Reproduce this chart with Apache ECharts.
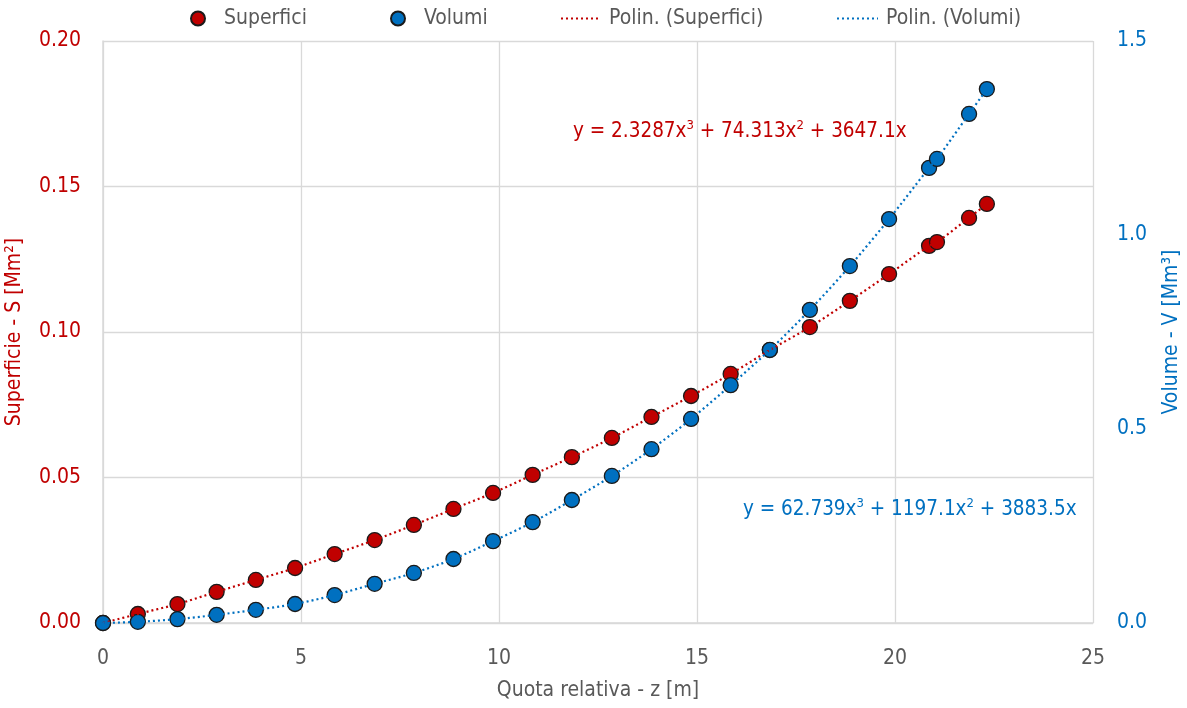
<!DOCTYPE html>
<html><head><meta charset="utf-8">
<script src="https://cdn.jsdelivr.net/npm/echarts@6/dist/echarts.min.js"></script>
<style>html,body{margin:0;padding:0;background:#fff}#c{width:1187px;height:708px}</style>
</head><body><div id="c"></div>
<script>
var quota = [0, 0.88, 1.88, 2.87, 3.86, 4.85, 5.85, 6.86, 7.85, 8.85, 9.85, 10.85, 11.84, 12.85, 13.85, 14.85, 15.85, 16.84, 17.85, 18.86, 19.85, 20.86, 21.06, 21.87, 22.32];
var superfici = [0, 0.0031, 0.0065, 0.0107, 0.0148, 0.0189, 0.0237, 0.0285, 0.0337, 0.0392, 0.0447, 0.0509, 0.0570, 0.0636, 0.0708, 0.0780, 0.0856, 0.0938, 0.1017, 0.1107, 0.1199, 0.1296, 0.1309, 0.1392, 0.1440];
var volumi = [0, 0.003, 0.010, 0.021, 0.034, 0.049, 0.072, 0.101, 0.129, 0.165, 0.211, 0.260, 0.317, 0.379, 0.448, 0.526, 0.613, 0.704, 0.807, 0.920, 1.041, 1.173, 1.196, 1.312, 1.376];
var eqSup = ['y = 2.3287x', '3', ' + 74.313x', '2', ' + 3647.1x'];
var eqVol = ['y = 62.739x', '3', ' + 1197.1x', '2', ' + 3883.5x'];

var RED = '#c00000', BLUE = '#0070c0', GREY = '#595959', GRID = '#d9d9d9';
var FONT = "'Liberation Sans Narrow', 'DejaVu Sans Condensed', 'Roboto', sans-serif";
function pairs(xs, ys){ return xs.map(function(x,i){ return [x, ys[i]]; }); }
function eqText(parts){ return '{n|' + parts[0] + '}{s|' + parts[1] + '}{n|' + parts[2] + '}{s|' + parts[3] + '}{n|' + parts[4] + '}'; }

var chart = echarts.init(document.getElementById('c'), null, {renderer: 'canvas'});
function legendAt(left, name, isLine, width, pad){
  var item = isLine ? {name: name, itemStyle: {opacity: 0}} : {name: name, icon: 'circle'};
  return {
    left: left, top: 3, itemGap: 0,
    itemWidth: isLine ? width : 14, itemHeight: 14,
    data: [item],
    textStyle: {color: GREY, fontSize: 21, fontFamily: FONT, padding: [0, 0, 0, pad]}
  };
}
chart.setOption({
  animation: false,
  textStyle: {fontFamily: FONT},
  grid: {left: 103, right: 94, top: 41, bottom: 85, outerBoundsMode: 'none', containLabel: false},
  legend: [
    legendAt(185, 'Superfici', false, 14, 14),
    legendAt(385, 'Volumi', false, 14, 14),
    legendAt(555, 'Polin. (Superfici)', true, 37, 6),
    legendAt(831, 'Polin. (Volumi)', true, 41, 3)
  ],
  xAxis: {
    type: 'value', min: 0, max: 25, interval: 5,
    name: 'Quota relativa - z [m]', nameLocation: 'middle', nameGap: 57,
    nameTextStyle: {color: GREY, fontSize: 21, fontFamily: FONT},
    axisLine: {show: true, lineStyle: {color: GRID, width: 1.5}},
    axisTick: {show: false},
    axisLabel: {color: GREY, fontSize: 21, margin: 25, fontFamily: FONT},
    splitLine: {show: true, lineStyle: {color: GRID, width: 1.3}}
  },
  yAxis: [{
    type: 'value', min: 0, max: 0.20, interval: 0.05, position: 'left',
    name: 'Superficie - S [Mm²]', nameLocation: 'middle', nameGap: 78, nameRotate: 90,
    nameTextStyle: {color: RED, fontSize: 21, fontFamily: FONT},
    axisLine: {show: true, lineStyle: {color: GRID, width: 1.5}},
    axisTick: {show: false},
    axisLabel: {color: RED, fontSize: 21, margin: 22, fontFamily: FONT, formatter: function(v){ return v.toFixed(2); }},
    splitLine: {show: true, lineStyle: {color: GRID, width: 1.3}}
  }, {
    type: 'value', min: 0, max: 1.5, interval: 0.5, position: 'right',
    name: 'Volume - V [Mm³]', nameLocation: 'middle', nameGap: 68, nameRotate: 90,
    nameTextStyle: {color: BLUE, fontSize: 21, fontFamily: FONT},
    axisLine: {show: false},
    axisTick: {show: false},
    axisLabel: {color: BLUE, fontSize: 21, margin: 24, fontFamily: FONT, formatter: function(v){ return v.toFixed(1); }},
    splitLine: {show: false}
  }],
  series: [
    {name: 'Superfici', type: 'scatter', yAxisIndex: 0, data: pairs(quota, superfici), symbolSize: 15, z: 2,
     itemStyle: {color: RED, borderColor: '#1a1a1a', borderWidth: 1.3, opacity: 1}},
    {name: 'Volumi', type: 'scatter', yAxisIndex: 1, data: pairs(quota, volumi), symbolSize: 15, z: 3,
     itemStyle: {color: BLUE, borderColor: '#1a1a1a', borderWidth: 1.3, opacity: 1}},
    {name: 'Polin. (Superfici)', type: 'line', yAxisIndex: 0, data: pairs(quota, superfici), smooth: 0.3, symbol: 'none', z: 5,
     lineStyle: {color: RED, width: 2.2, type: [2, 3]}, itemStyle: {color: RED}},
    {name: 'Polin. (Volumi)', type: 'line', yAxisIndex: 1, data: pairs(quota, volumi), smooth: 0.3, symbol: 'none', z: 5,
     lineStyle: {color: BLUE, width: 2.2, type: [2, 3]}, itemStyle: {color: BLUE}}
  ],
  graphic: [
    {type: 'text', left: 573, top: 119, z: 10, style: {text: eqText(eqSup), fill: RED,
      rich: {n: {fontSize: 20.5, fontFamily: FONT, fill: RED, lineHeight: 26}, s: {fontSize: 13, fontFamily: FONT, fill: RED, verticalAlign: 'top', lineHeight: 20}}}},
    {type: 'text', left: 743, top: 497, z: 10, style: {text: eqText(eqVol), fill: BLUE,
      rich: {n: {fontSize: 20.5, fontFamily: FONT, fill: BLUE, lineHeight: 26}, s: {fontSize: 13, fontFamily: FONT, fill: BLUE, verticalAlign: 'top', lineHeight: 20}}}}
  ]
});
</script></body></html>
